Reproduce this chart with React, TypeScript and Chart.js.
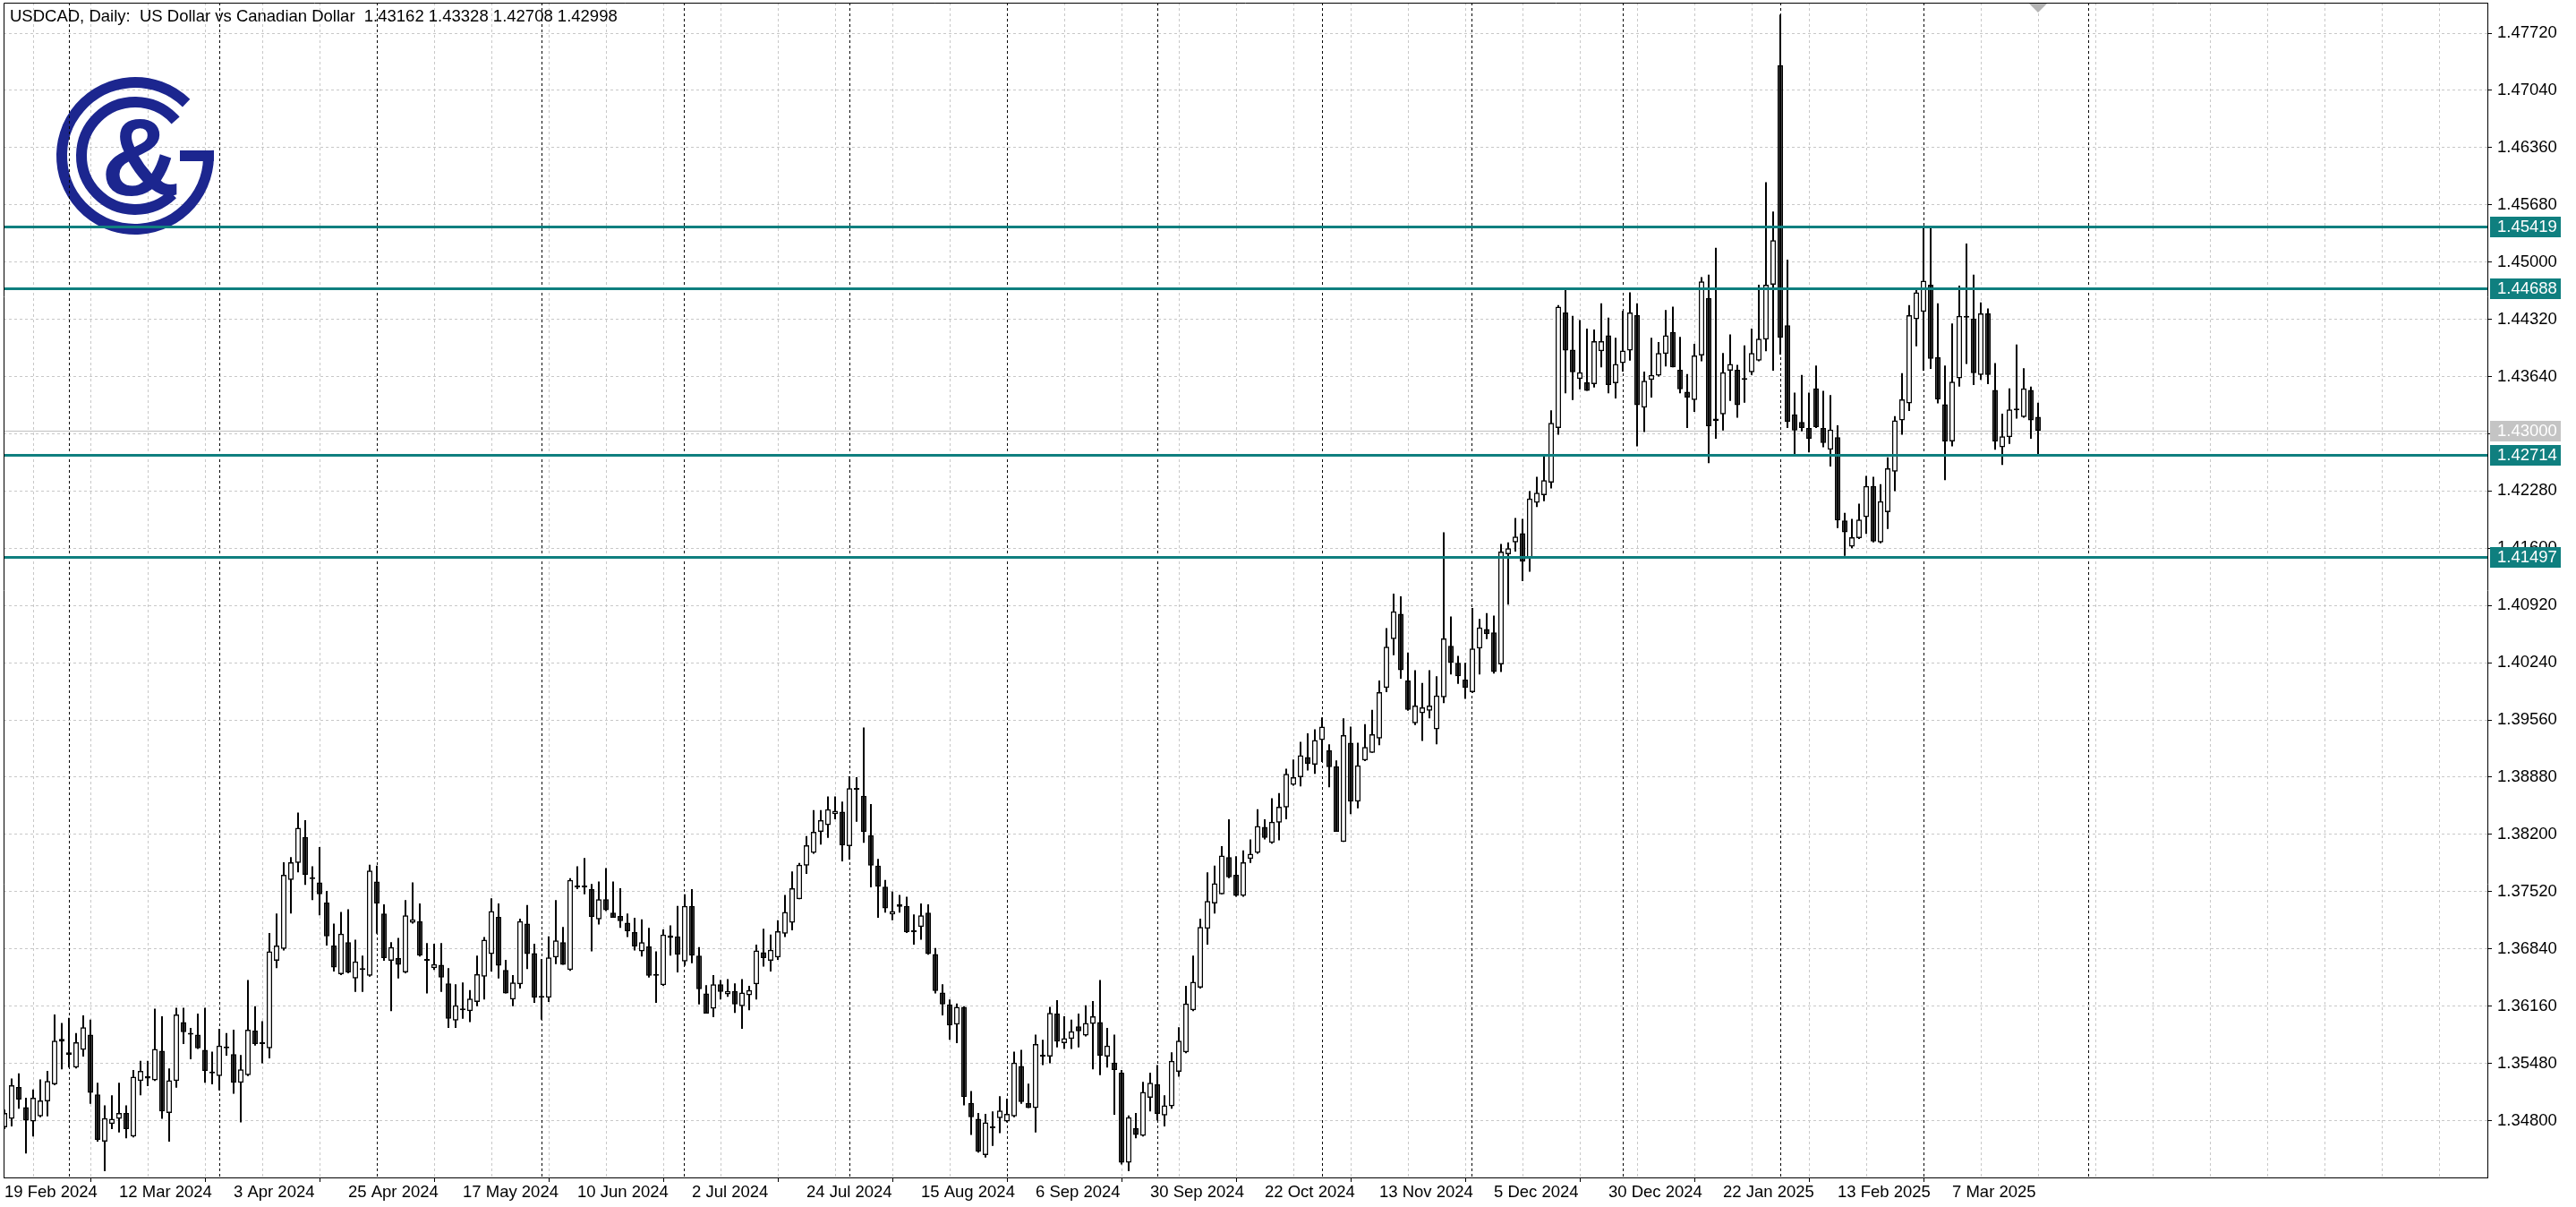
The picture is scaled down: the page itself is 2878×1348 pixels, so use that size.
import React, { useEffect, useRef } from 'react';
import { Chart, registerables } from 'chart.js';

Chart.register(...registerables);

// ---------------- data ----------------
const symbolTitle = 'USDCAD, Daily:  US Dollar vs Canadian Dollar';
const firstBarDate = '2024-02-19';
const closedDays = ['2024-12-25', '2025-01-01'];

const opens = [
  1.3472, 1.3482, 1.3520, 1.3496, 1.3479, 1.3485, 1.3503, 1.3523, 1.3574, 1.3561,
  1.3543, 1.3564, 1.3582, 1.3511, 1.3455, 1.3476, 1.3482, 1.3489, 1.3461, 1.3527,
  1.3530, 1.3528, 1.3563, 1.3489, 1.3527, 1.3597, 1.3583, 1.3582, 1.3564, 1.3538,
  1.3533, 1.3568, 1.3559, 1.3525, 1.3534, 1.3587, 1.3571, 1.3566, 1.3670, 1.3684,
  1.3766, 1.3786, 1.3817, 1.3769, 1.3763, 1.3739, 1.3688, 1.3654, 1.3692, 1.3649,
  1.3659, 1.3652, 1.3764, 1.3726, 1.3670, 1.3673, 1.3656, 1.3715, 1.3717, 1.3670,
  1.3661, 1.3665, 1.3643, 1.3599, 1.3612, 1.3610, 1.3621, 1.3651, 1.3678, 1.3722,
  1.3659, 1.3624, 1.3642, 1.3714, 1.3679, 1.3628, 1.3626, 1.3674, 1.3692, 1.3659,
  1.3758, 1.3757, 1.3755, 1.3719, 1.3743, 1.3727, 1.3723, 1.3715, 1.3704, 1.3681,
  1.3687, 1.3652, 1.3641, 1.3697, 1.3699, 1.3669, 1.3735, 1.3676, 1.3631, 1.3613,
  1.3642, 1.3630, 1.3634, 1.3616, 1.3629, 1.3642, 1.3680, 1.3670, 1.3674, 1.3702,
  1.3715, 1.3743, 1.3783, 1.3798, 1.3823, 1.3831, 1.3844, 1.3847, 1.3806, 1.3874,
  1.3866, 1.3819, 1.3783, 1.3758, 1.3725, 1.3734, 1.3735, 1.3704, 1.3710, 1.3727,
  1.3678, 1.3632, 1.3618, 1.3594, 1.3615, 1.3501, 1.3482, 1.3439, 1.3471, 1.3483,
  1.3479, 1.3485, 1.3545, 1.3501, 1.3495, 1.3556, 1.3556, 1.3607, 1.3572, 1.3577,
  1.3592, 1.3581, 1.3595, 1.3597, 1.3556, 1.3549, 1.3537, 1.3430, 1.3471, 1.3462,
  1.3507, 1.3523, 1.3486, 1.3497, 1.3538, 1.3561, 1.3611, 1.3638, 1.3708, 1.3738,
  1.3749, 1.3793, 1.3772, 1.3747, 1.3791, 1.3798, 1.3829, 1.3810, 1.3834, 1.3852,
  1.3879, 1.3888, 1.3912, 1.3903, 1.3932, 1.3920, 1.3901, 1.3811, 1.3929, 1.3859,
  1.3908, 1.3917, 1.3934, 1.3994, 1.4052, 1.4082, 1.4003, 1.3952, 1.3964, 1.3967,
  1.3945, 1.3983, 1.4044, 1.4024, 1.4004, 1.3989, 1.4041, 1.4064, 1.4060, 1.4022,
  1.4153, 1.4167, 1.4178, 1.4148, 1.4214, 1.4223, 1.4238, 1.4303, 1.4440, 1.4396,
  1.4361, 1.4357, 1.4355, 1.4394, 1.4413, 1.4356, 1.4380, 1.4395, 1.4437, 1.4327,
  1.4360, 1.4365, 1.4391, 1.4417, 1.4372, 1.4346, 1.4336, 1.4389, 1.4457, 1.4311,
  1.4319, 1.4371, 1.4372, 1.4360, 1.4369, 1.4383, 1.4408, 1.4473, 1.4734, 1.4425,
  1.4319, 1.4310, 1.4303, 1.4350, 1.4303, 1.4277, 1.4292, 1.4193, 1.4162, 1.4172,
  1.4197, 1.4234, 1.4167, 1.4203, 1.4251, 1.4312, 1.4332, 1.4432, 1.4441, 1.4473,
  1.4387, 1.4331, 1.4287, 1.4362, 1.4434, 1.4433, 1.4366, 1.4439, 1.4348, 1.4280,
  1.4292, 1.4324, 1.4316, 1.4348, 1.43162,
];

const highs = [
  1.3493, 1.3530, 1.3536, 1.3507, 1.3517, 1.3529, 1.3539, 1.3606, 1.3596, 1.3602,
  1.3584, 1.3605, 1.3600, 1.3525, 1.3498, 1.3510, 1.3525, 1.3498, 1.3540, 1.3551,
  1.3551, 1.3613, 1.3604, 1.3542, 1.3614, 1.3614, 1.3590, 1.3607, 1.3614, 1.3562,
  1.3589, 1.3584, 1.3588, 1.3558, 1.3647, 1.3616, 1.3598, 1.3703, 1.3726, 1.3787,
  1.3793, 1.3846, 1.3837, 1.3782, 1.3805, 1.3753, 1.3714, 1.3728, 1.3731, 1.3695,
  1.3676, 1.3784, 1.3783, 1.3737, 1.3692, 1.3697, 1.3742, 1.3763, 1.3738, 1.3691,
  1.3690, 1.3691, 1.3661, 1.3642, 1.3644, 1.3635, 1.3676, 1.3698, 1.3744, 1.3738,
  1.3671, 1.3653, 1.3720, 1.3736, 1.3690, 1.3672, 1.3699, 1.3742, 1.3710, 1.3768,
  1.3782, 1.3792, 1.3761, 1.3764, 1.3780, 1.3764, 1.3756, 1.3726, 1.3721, 1.3719,
  1.3709, 1.3681, 1.3707, 1.3712, 1.3735, 1.3749, 1.3755, 1.3686, 1.3641, 1.3653,
  1.3647, 1.3648, 1.3643, 1.3648, 1.3640, 1.3689, 1.3708, 1.3701, 1.3718, 1.3748,
  1.3776, 1.3786, 1.3818, 1.3849, 1.3849, 1.3865, 1.3865, 1.3859, 1.3889, 1.3888,
  1.3947, 1.3856, 1.3791, 1.3766, 1.3752, 1.3748, 1.3746, 1.3725, 1.3738, 1.3737,
  1.3685, 1.3642, 1.3624, 1.3619, 1.3616, 1.3515, 1.3489, 1.3488, 1.3491, 1.3509,
  1.3506, 1.3562, 1.3564, 1.3524, 1.3582, 1.3576, 1.3615, 1.3623, 1.3604, 1.3600,
  1.3607, 1.3617, 1.3622, 1.3647, 1.3590, 1.3582, 1.3540, 1.3486, 1.3489, 1.3526,
  1.3537, 1.3546, 1.3510, 1.3561, 1.3591, 1.3640, 1.3676, 1.3720, 1.3775, 1.3783,
  1.3806, 1.3838, 1.3794, 1.3801, 1.3814, 1.3850, 1.3838, 1.3863, 1.3869, 1.3898,
  1.3909, 1.3930, 1.3940, 1.3945, 1.3959, 1.3927, 1.3908, 1.3958, 1.3948, 1.3929,
  1.3951, 1.3968, 1.4003, 1.4065, 1.4106, 1.4103, 1.4036, 1.4015, 1.4000, 1.4015,
  1.4008, 1.4179, 1.4079, 1.4032, 1.4024, 1.4089, 1.4076, 1.4083, 1.4080, 1.4165,
  1.4167, 1.4196, 1.4195, 1.4228, 1.4245, 1.4272, 1.4324, 1.4449, 1.4469, 1.4436,
  1.4431, 1.4421, 1.4420, 1.4451, 1.4434, 1.4410, 1.4442, 1.4464, 1.4451, 1.4370,
  1.4410, 1.4405, 1.4443, 1.4447, 1.4411, 1.4367, 1.4403, 1.4482, 1.4485, 1.4517,
  1.4392, 1.4414, 1.4378, 1.4401, 1.4421, 1.4473, 1.4595, 1.4560, 1.4794, 1.4503,
  1.4345, 1.4366, 1.4345, 1.4377, 1.4347, 1.4342, 1.4306, 1.4202, 1.4195, 1.4213,
  1.4246, 1.4245, 1.4236, 1.4268, 1.4317, 1.4368, 1.4449, 1.4470, 1.4542, 1.4543,
  1.4451, 1.4377, 1.4427, 1.4472, 1.4522, 1.4485, 1.4452, 1.4445, 1.4380, 1.4320,
  1.4350, 1.4402, 1.4374, 1.4352, 1.43328,
];

const lows = [
  1.3470, 1.3473, 1.3494, 1.3441, 1.3461, 1.3484, 1.3485, 1.3522, 1.3541, 1.3543,
  1.3542, 1.3556, 1.3500, 1.3455, 1.3420, 1.3470, 1.3466, 1.3459, 1.3460, 1.3510,
  1.3521, 1.3527, 1.3482, 1.3455, 1.3519, 1.3571, 1.3553, 1.3565, 1.3525, 1.3523,
  1.3516, 1.3557, 1.3512, 1.3478, 1.3533, 1.3569, 1.3548, 1.3554, 1.3661, 1.3682,
  1.3726, 1.3775, 1.3760, 1.3742, 1.3724, 1.3688, 1.3657, 1.3653, 1.3655, 1.3633,
  1.3633, 1.3651, 1.3702, 1.3670, 1.3610, 1.3649, 1.3655, 1.3714, 1.3675, 1.3631,
  1.3659, 1.3633, 1.3590, 1.3590, 1.3601, 1.3597, 1.3616, 1.3624, 1.3657, 1.3649,
  1.3631, 1.3616, 1.3637, 1.3660, 1.3620, 1.3600, 1.3621, 1.3666, 1.3665, 1.3658,
  1.3755, 1.3749, 1.3681, 1.3713, 1.3729, 1.3721, 1.3709, 1.3698, 1.3682, 1.3675,
  1.3650, 1.3620, 1.3640, 1.3676, 1.3656, 1.3664, 1.3667, 1.3618, 1.3607, 1.3603,
  1.3624, 1.3627, 1.3608, 1.3589, 1.3611, 1.3624, 1.3663, 1.3657, 1.3671, 1.3698,
  1.3706, 1.3743, 1.3773, 1.3797, 1.3808, 1.3816, 1.3838, 1.3788, 1.3790, 1.3835,
  1.3810, 1.3757, 1.3721, 1.3727, 1.3718, 1.3727, 1.3703, 1.3689, 1.3695, 1.3677,
  1.3631, 1.3605, 1.3576, 1.3572, 1.3498, 1.3463, 1.3442, 1.3436, 1.3450, 1.3465,
  1.3478, 1.3484, 1.3500, 1.3495, 1.3466, 1.3546, 1.3548, 1.3567, 1.3565, 1.3565,
  1.3567, 1.3580, 1.3541, 1.3534, 1.3543, 1.3487, 1.3428, 1.3420, 1.3459, 1.3461,
  1.3491, 1.3480, 1.3473, 1.3494, 1.3532, 1.3560, 1.3610, 1.3637, 1.3689, 1.3726,
  1.3749, 1.3768, 1.3746, 1.3746, 1.3786, 1.3797, 1.3814, 1.3809, 1.3813, 1.3838,
  1.3878, 1.3877, 1.3896, 1.3892, 1.3906, 1.3876, 1.3823, 1.3811, 1.3844, 1.3851,
  1.3907, 1.3917, 1.3926, 1.3989, 1.4033, 1.4005, 1.3967, 1.3950, 1.3931, 1.3958,
  1.3927, 1.3976, 1.4010, 1.3999, 1.3981, 1.3988, 1.4010, 1.4052, 1.4011, 1.4013,
  1.4093, 1.4156, 1.4121, 1.4132, 1.4209, 1.4216, 1.4231, 1.4295, 1.4344, 1.4336,
  1.4349, 1.4347, 1.4351, 1.4375, 1.4344, 1.4338, 1.4370, 1.4383, 1.4281, 1.4298,
  1.4339, 1.4364, 1.4376, 1.4375, 1.4344, 1.4303, 1.4322, 1.4382, 1.4261, 1.4290,
  1.4300, 1.4335, 1.4315, 1.4333, 1.4366, 1.4382, 1.4394, 1.4371, 1.4390, 1.4303,
  1.4272, 1.4299, 1.4274, 1.4303, 1.4280, 1.4257, 1.4184, 1.4151, 1.4160, 1.4171,
  1.4177, 1.4167, 1.4166, 1.4183, 1.4228, 1.4295, 1.4323, 1.4400, 1.4371, 1.4373,
  1.4332, 1.4241, 1.4281, 1.4352, 1.4379, 1.4354, 1.4360, 1.4355, 1.4277, 1.4259,
  1.4284, 1.4314, 1.4315, 1.4290, 1.42708,
];

const closes = [
  1.3489, 1.3522, 1.3505, 1.3480, 1.3507, 1.3504, 1.3527, 1.3575, 1.3577, 1.3558,
  1.3573, 1.3591, 1.3513, 1.3457, 1.3483, 1.3482, 1.3489, 1.3470, 1.3532, 1.3539,
  1.3533, 1.3565, 1.3491, 1.3528, 1.3606, 1.3585, 1.3582, 1.3566, 1.3539, 1.3536,
  1.3569, 1.3566, 1.3525, 1.3541, 1.3588, 1.3571, 1.3572, 1.3681, 1.3688, 1.3772,
  1.3787, 1.3828, 1.3772, 1.3767, 1.3749, 1.3699, 1.3662, 1.3702, 1.3656, 1.3669,
  1.3661, 1.3777, 1.3738, 1.3673, 1.3686, 1.3665, 1.3724, 1.3719, 1.3676, 1.3672,
  1.3666, 1.3650, 1.3601, 1.3617, 1.3611, 1.3625, 1.3654, 1.3695, 1.3729, 1.3664,
  1.3631, 1.3644, 1.3717, 1.3678, 1.3626, 1.3626, 1.3674, 1.3694, 1.3665, 1.3766,
  1.3757, 1.3758, 1.3722, 1.3743, 1.3730, 1.3721, 1.3717, 1.3705, 1.3687, 1.3692,
  1.3652, 1.3653, 1.3701, 1.3700, 1.3677, 1.3735, 1.3676, 1.3636, 1.3607, 1.3642,
  1.3633, 1.3634, 1.3618, 1.3632, 1.3635, 1.3682, 1.3673, 1.3683, 1.3705, 1.3728,
  1.3756, 1.3784, 1.3807, 1.3823, 1.3837, 1.3850, 1.3848, 1.3807, 1.3875, 1.3873,
  1.3823, 1.3783, 1.3758, 1.3732, 1.3729, 1.3737, 1.3704, 1.3706, 1.3724, 1.3678,
  1.3634, 1.3618, 1.3593, 1.3615, 1.3508, 1.3484, 1.3443, 1.3478, 1.3473, 1.3492,
  1.3488, 1.3549, 1.3502, 1.3495, 1.3571, 1.3558, 1.3608, 1.3574, 1.3578, 1.3586,
  1.3586, 1.3596, 1.3604, 1.3557, 1.3569, 1.3540, 1.3430, 1.3484, 1.3463, 1.3514,
  1.3525, 1.3488, 1.3498, 1.3551, 1.3575, 1.3619, 1.3645, 1.3710, 1.3741, 1.3762,
  1.3795, 1.3769, 1.3747, 1.3787, 1.3797, 1.3830, 1.3816, 1.3835, 1.3853, 1.3892,
  1.3888, 1.3914, 1.3904, 1.3932, 1.3948, 1.3900, 1.3823, 1.3938, 1.3859, 1.3902,
  1.3924, 1.3939, 1.3989, 1.4043, 1.4085, 1.4015, 1.3968, 1.3973, 1.3971, 1.3973,
  1.3985, 1.4053, 1.4024, 1.4008, 1.3994, 1.4041, 1.4066, 1.4058, 1.4013, 1.4156,
  1.4160, 1.4174, 1.4144, 1.4219, 1.4226, 1.4241, 1.4309, 1.4447, 1.4395, 1.4369,
  1.4369, 1.4347, 1.4406, 1.4406, 1.4354, 1.4379, 1.4395, 1.4440, 1.4330, 1.4359,
  1.4366, 1.4392, 1.4413, 1.4375, 1.4349, 1.4339, 1.4389, 1.4477, 1.4305, 1.4314,
  1.4369, 1.4379, 1.4330, 1.4361, 1.4392, 1.4409, 1.4473, 1.4526, 1.4410, 1.4310,
  1.4300, 1.4303, 1.4290, 1.4304, 1.4285, 1.4301, 1.4193, 1.4179, 1.4173, 1.4194,
  1.4234, 1.4168, 1.4216, 1.4255, 1.4312, 1.4337, 1.4437, 1.4464, 1.4478, 1.4385,
  1.4337, 1.4287, 1.4358, 1.4436, 1.4436, 1.4368, 1.4439, 1.4366, 1.4287, 1.4293,
  1.4325, 1.4326, 1.4350, 1.4312, 1.42998,
];

const xTickLabels = [
  '19 Feb 2024', '12 Mar 2024', '3 Apr 2024', '25 Apr 2024', '17 May 2024', '10 Jun 2024',
  '2 Jul 2024', '24 Jul 2024', '15 Aug 2024', '6 Sep 2024', '30 Sep 2024', '22 Oct 2024',
  '13 Nov 2024', '5 Dec 2024', '30 Dec 2024', '22 Jan 2025', '13 Feb 2025', '7 Mar 2025',
];

const yTickValues = [
  1.348, 1.3548, 1.3616, 1.3684, 1.3752, 1.382, 1.3888, 1.3956, 1.4024, 1.4092,
  1.416, 1.4228, 1.4296, 1.4364, 1.4432, 1.45, 1.4568, 1.4636, 1.4704, 1.4772,
];

const levelLines = [1.45419, 1.44688, 1.42714, 1.41497];
const bidPrice = 1.43;

// ---------------- axis / layout settings ----------------
const W = 2878;
const H = 1348;
const FONT = "'Liberation Sans', Arial, sans-serif";
const FONT_SIZE = 18.5;
const Y_MIN = 1.341245;
const Y_MAX = 1.480819;
const X_MIN = -0.125;
const X_MAX = 346.75;
const GRID_STEP = 8;
const TEAL = '#0f7f7f';
const LOGO_BLUE = '#1c268f';

const MONTHS = ['Jan', 'Feb', 'Mar', 'Apr', 'May', 'Jun', 'Jul', 'Aug', 'Sep', 'Oct', 'Nov', 'Dec'];

function buildSlots(count: number, total: number) {
  const labels: string[] = [];
  const months: number[] = [];
  const d = new Date(firstBarDate + 'T00:00:00Z');
  while (labels.length < count) {
    const dow = d.getUTCDay();
    const iso = d.toISOString().slice(0, 10);
    if (dow !== 0 && dow !== 6 && !closedDays.includes(iso)) {
      labels.push(`${d.getUTCDate()} ${MONTHS[d.getUTCMonth()]} ${d.getUTCFullYear()}`);
      months.push(d.getUTCMonth());
    }
    d.setUTCDate(d.getUTCDate() + 1);
  }
  // the terminal extends time into the empty right margin by calendar days
  while (months.length < total) {
    months.push(d.getUTCMonth());
    d.setUTCDate(d.getUTCDate() + 1);
  }
  return { labels, months };
}

const barCount = opens.length;
const slots = buildSlots(barCount, Math.ceil(X_MAX) + 1);
const dates = slots.labels;

const labelMap = new Map<number, string>();
xTickLabels.forEach((l) => {
  const i = dates.indexOf(l);
  if (i >= 0) labelMap.set(i, l);
});

const separatorIdx: number[] = (() => {
  const out: number[] = [];
  let futureAdded = false;
  for (let i = 1; i < slots.months.length; i++) {
    if (slots.months[i] !== slots.months[i - 1]) {
      if (i < barCount) out.push(i);
      else if (!futureAdded) {
        out.push(i);
        futureAdded = true;
      }
    }
  }
  return out;
})();

const gridTicks: number[] = [];
for (let v = 0; v <= X_MAX; v += GRID_STEP) gridTicks.push(v);

function drawLogo(ctx: CanvasRenderingContext2D) {
  const cx = 151;
  const cy = 174;
  ctx.save();
  ctx.strokeStyle = LOGO_BLUE;
  ctx.fillStyle = LOGO_BLUE;
  ctx.lineCap = 'butt';
  ctx.lineWidth = 12;
  ctx.beginPath();
  ctx.arc(cx, cy, 82, -0.07, Math.PI * 2 - 0.8, false);
  ctx.stroke();
  ctx.beginPath();
  ctx.arc(cx, cy, 60, 0.8, Math.PI * 2 - 0.72, false);
  ctx.stroke();
  ctx.fillRect(cx + 50, cy - 6, 38, 12);
  ctx.font = `bold 122px ${FONT}`;
  ctx.textAlign = 'center';
  ctx.textBaseline = 'alphabetic';
  ctx.fillText('&', cx + 6, cy + 44);
  ctx.restore();
}

function priceBox(ctx: CanvasRenderingContext2D, py: number, text: string, bg: string) {
  const yy = Math.round(py);
  ctx.fillStyle = bg;
  ctx.fillRect(2782, yy - 11, 79, 23);
  ctx.fillStyle = '#ffffff';
  ctx.font = `${FONT_SIZE}px ${FONT}`;
  ctx.textAlign = 'left';
  ctx.textBaseline = 'middle';
  ctx.fillText(text, 2790, yy + 1);
}

const mt5Plugin = {
  id: 'mt5decor',
  beforeDatasetsDraw(chart: any) {
    const { ctx, chartArea: a, scales } = chart;
    const x = scales.x;
    const y = scales.y;
    ctx.save();
    drawLogo(ctx);
    // period separators (month starts)
    ctx.strokeStyle = '#000000';
    ctx.lineWidth = 1;
    ctx.setLineDash([3, 3]);
    separatorIdx.forEach((i) => {
      const px = Math.floor(x.getPixelForValue(i)) + 0.5;
      if (px < a.left || px > a.right) return;
      ctx.beginPath();
      ctx.moveTo(px, a.top);
      ctx.lineTo(px, a.bottom);
      ctx.stroke();
    });
    ctx.setLineDash([]);
    // bid line
    const by = Math.round(y.getPixelForValue(bidPrice)) + 0.5;
    ctx.strokeStyle = '#c0c0c0';
    ctx.beginPath();
    ctx.moveTo(a.left, by);
    ctx.lineTo(a.right, by);
    ctx.stroke();
    ctx.restore();
  },
  afterDatasetsDraw(chart: any) {
    const { ctx, chartArea: a, scales } = chart;
    const y = scales.y;
    ctx.save();
    ctx.fillStyle = TEAL;
    levelLines.forEach((p) => {
      const py = Math.round(y.getPixelForValue(p));
      ctx.fillRect(a.left, py - 1, a.right - a.left, 3);
    });
    ctx.restore();
  },
  afterDraw(chart: any) {
    const { ctx, chartArea: a, scales } = chart;
    const x = scales.x;
    const y = scales.y;
    ctx.save();
    // frame (left + top)
    ctx.strokeStyle = '#000000';
    ctx.lineWidth = 1;
    ctx.beginPath();
    ctx.moveTo(a.left + 0.5, a.bottom);
    ctx.lineTo(a.left + 0.5, a.top + 0.5);
    ctx.lineTo(a.right, a.top + 0.5);
    ctx.stroke();
    // price labels on the axis
    priceBox(ctx, y.getPixelForValue(bidPrice), bidPrice.toFixed(5), '#c4c4c4');
    levelLines.forEach((p) => priceBox(ctx, y.getPixelForValue(p), p.toFixed(5), TEAL));
    // chart shift marker at the last bar
    const sx = Math.round(x.getPixelForValue(barCount - 1));
    ctx.fillStyle = '#b4b4b4';
    ctx.beginPath();
    ctx.moveTo(sx - 10, a.top + 1);
    ctx.lineTo(sx + 10, a.top + 1);
    ctx.lineTo(sx, a.top + 11);
    ctx.closePath();
    ctx.fill();
    // title
    const last = barCount - 1;
    const title = `${symbolTitle}  ${opens[last].toFixed(5)} ${highs[last].toFixed(5)} ${lows[last].toFixed(5)} ${closes[last].toFixed(5)}`;
    ctx.fillStyle = '#000000';
    ctx.font = `${FONT_SIZE}px ${FONT}`;
    ctx.textAlign = 'left';
    ctx.textBaseline = 'alphabetic';
    ctx.fillText(title, 11, 24);
    ctx.restore();
  },
};

export default function App() {
  const canvasRef = useRef<HTMLCanvasElement | null>(null);

  useEffect(() => {
    const canvas = canvasRef.current;
    if (!canvas) return;
    const idx = opens.map((_, i) => i);
    const bodyData = idx.map((i) => ({ x: i, y: [opens[i], closes[i]] }));
    const wickData = idx.map((i) => ({ x: i, y: [lows[i], highs[i]] }));
    const bodyColors = idx.map((i) => (closes[i] >= opens[i] ? '#ffffff' : '#000000'));

    const chart = new Chart(canvas, {
      type: 'bar',
      data: {
        datasets: [
          {
            label: 'body',
            data: bodyData as any,
            order: 0,
            barThickness: 6,
            borderWidth: 1.5,
            borderColor: '#000000',
            backgroundColor: bodyColors,
            borderSkipped: false,
            minBarLength: 2,
            grouped: false,
            inflateAmount: 0,
          } as any,
          {
            label: 'wick',
            data: wickData as any,
            order: 1,
            barThickness: 2,
            borderWidth: 0,
            backgroundColor: '#000000',
            grouped: false,
            inflateAmount: 0,
          } as any,
        ],
      },
      options: {
        animation: false,
        responsive: false,
        devicePixelRatio: 1,
        events: [],
        layout: { padding: { left: 4, top: 3, right: 0, bottom: 0 } },
        plugins: {
          legend: { display: false },
          tooltip: { enabled: false },
          title: { display: false },
        },
        scales: {
          x: {
            type: 'linear',
            position: 'bottom',
            min: X_MIN,
            max: X_MAX,
            offset: false,
            afterBuildTicks: (s: any) => {
              s.ticks = gridTicks.map((v) => ({ value: v }));
            },
            afterFit: (s: any) => {
              s.height = 33;
              s.paddingLeft = 0;
              s.paddingRight = 0;
            },
            ticks: {
              autoSkip: false,
              maxRotation: 0,
              minRotation: 0,
              align: 'start',
              padding: 1,
              color: '#000000',
              font: { family: FONT, size: FONT_SIZE },
              callback: (v: any) => labelMap.get(Number(v)) ?? '',
            },
            grid: {
              color: '#c8c8c8',
              lineWidth: 1,
              drawTicks: true,
              tickLength: 5,
              tickWidth: 1,
              tickColor: (c: any) => (c.tick && labelMap.has(c.tick.value) ? '#000000' : 'rgba(0,0,0,0)'),
            },
            border: { display: true, color: '#000000', width: 1, dash: [3, 3] },
          } as any,
          y: {
            type: 'linear',
            position: 'right',
            min: Y_MIN,
            max: Y_MAX,
            afterBuildTicks: (s: any) => {
              s.ticks = yTickValues.map((v) => ({ value: v }));
            },
            afterFit: (s: any) => {
              s.width = 99;
              s.paddingTop = 0;
              s.paddingBottom = 0;
            },
            ticks: {
              autoSkip: false,
              padding: 6,
              color: '#000000',
              font: { family: FONT, size: FONT_SIZE },
              callback: (v: any) => Number(v).toFixed(5),
            },
            grid: {
              color: '#c8c8c8',
              lineWidth: 1,
              drawTicks: true,
              tickLength: 5,
              tickWidth: 1,
              tickColor: '#000000',
            },
            border: { display: true, color: '#000000', width: 1, dash: [3, 3] },
          } as any,
        },
      },
      plugins: [mt5Plugin],
    });
    return () => chart.destroy();
  }, []);

  return (
    <div style={{ position: 'fixed', left: 0, top: 0, width: W, height: H, background: '#ffffff' }}>
      <canvas ref={canvasRef} width={W} height={H} style={{ display: 'block', width: W, height: H }} />
    </div>
  );
}
